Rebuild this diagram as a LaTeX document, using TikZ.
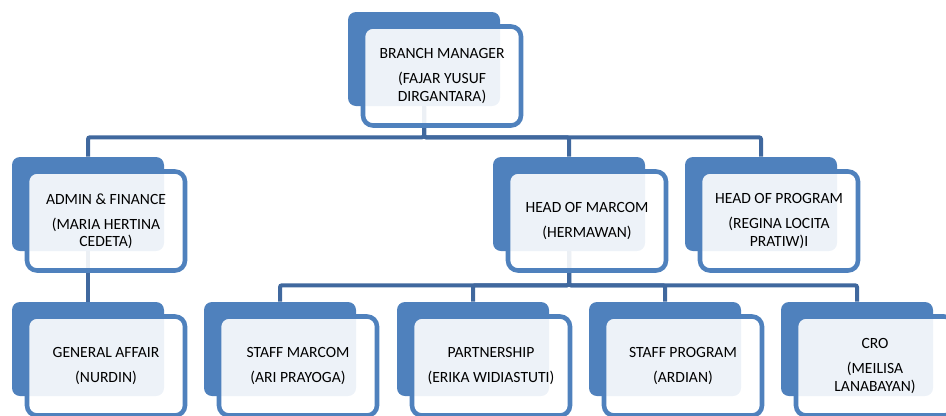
\documentclass[tikz,border=0pt]{standalone}
\usepackage{fontspec}
\setmainfont{Carlito}
\usetikzlibrary{calc}
\definecolor{orgblue}{RGB}{79,129,189}
\definecolor{orgline}{RGB}{64,104,158}

\begin{document}
\begin{tikzpicture}[x=0.75pt, y=-0.75pt,
    back/.style={fill=orgblue, rounded corners=6pt, minimum width=114pt, minimum height=70.5pt, inner sep=0pt},
    front/.style={draw=orgblue, line width=3.4pt, fill=white, fill opacity=0.9, text opacity=1, rounded corners=7.5pt, minimum width=118.5pt, minimum height=74.25pt, inner sep=0pt, align=center, font=\fontsize{11.7}{12.9}\selectfont},
    link/.style={draw=orgline, line width=3pt, rounded corners=1.5pt}
]
\useasboundingbox (0,0) rectangle (946,415);
\clip (0,0) rectangle (946,415);

% back boxes
\node[back] (bm) at (424,59) {};
\node[back] (af) at (88,204) {};
\node[back] (hm) at (569,204) {};
\node[back] (hp) at (761,204) {};
\node[back] (ga) at (88,349) {};
\node[back] (sm) at (280,349) {};
\node[back] (pt) at (473,349) {};
\node[back] (sp) at (665,349) {};
\node[back] (cro) at (857,349) {};

% connectors
\draw[link] (bm.south) -- ++(0,31) -| (af.north);
\draw[link] (bm.south) -- ++(0,31) -| (hm.north);
\draw[link] (bm.south) -- ++(0,31) -| (hp.north);
\draw[link] (af.south) -- (ga.north);
\draw[link] (hm.south) -- ++(0,34) -| (sm.north);
\draw[link] (hm.south) -- ++(0,34) -| (pt.north);
\draw[link] (hm.south) -- ++(0,34) -| (sp.north);
\draw[link] (hm.south) -- ++(0,34) -| (cro.north);

% front boxes
\node[front] (bmf) at ($(bm)+(18,17)$) {BRANCH MANAGER\\[6pt](FAJAR YUSUF\\DIRGANTARA)};
\node[front] (aff) at ($(af)+(18,17)$) {ADMIN \& FINANCE\\[6pt](MARIA HERTINA\\CEDETA)};
\node[front] (hmf) at ($(hm)+(18,17)$) {HEAD OF MARCOM\\[6pt](HERMAWAN)};
\node[front] (hpf) at ($(hp)+(18,17)$) {HEAD OF PROGRAM\\[6pt](REGINA LOCITA\\PRATIW)I};
\node[front] (gaf) at ($(ga)+(18,17)$) {GENERAL AFFAIR\\[6pt](NURDIN)};
\node[front] (smf) at ($(sm)+(18,17)$) {STAFF MARCOM\\[6pt](ARI PRAYOGA)};
\node[front] (ptf) at ($(pt)+(18,17)$) {PARTNERSHIP\\[6pt](ERIKA WIDIASTUTI)};
\node[front] (spf) at ($(sp)+(18,17)$) {STAFF PROGRAM\\[6pt](ARDIAN)};
\node[front] (crof) at ($(cro)+(18,17)$) {CRO\\[6pt](MEILISA\\LANABAYAN)};
\end{tikzpicture}
\end{document}
